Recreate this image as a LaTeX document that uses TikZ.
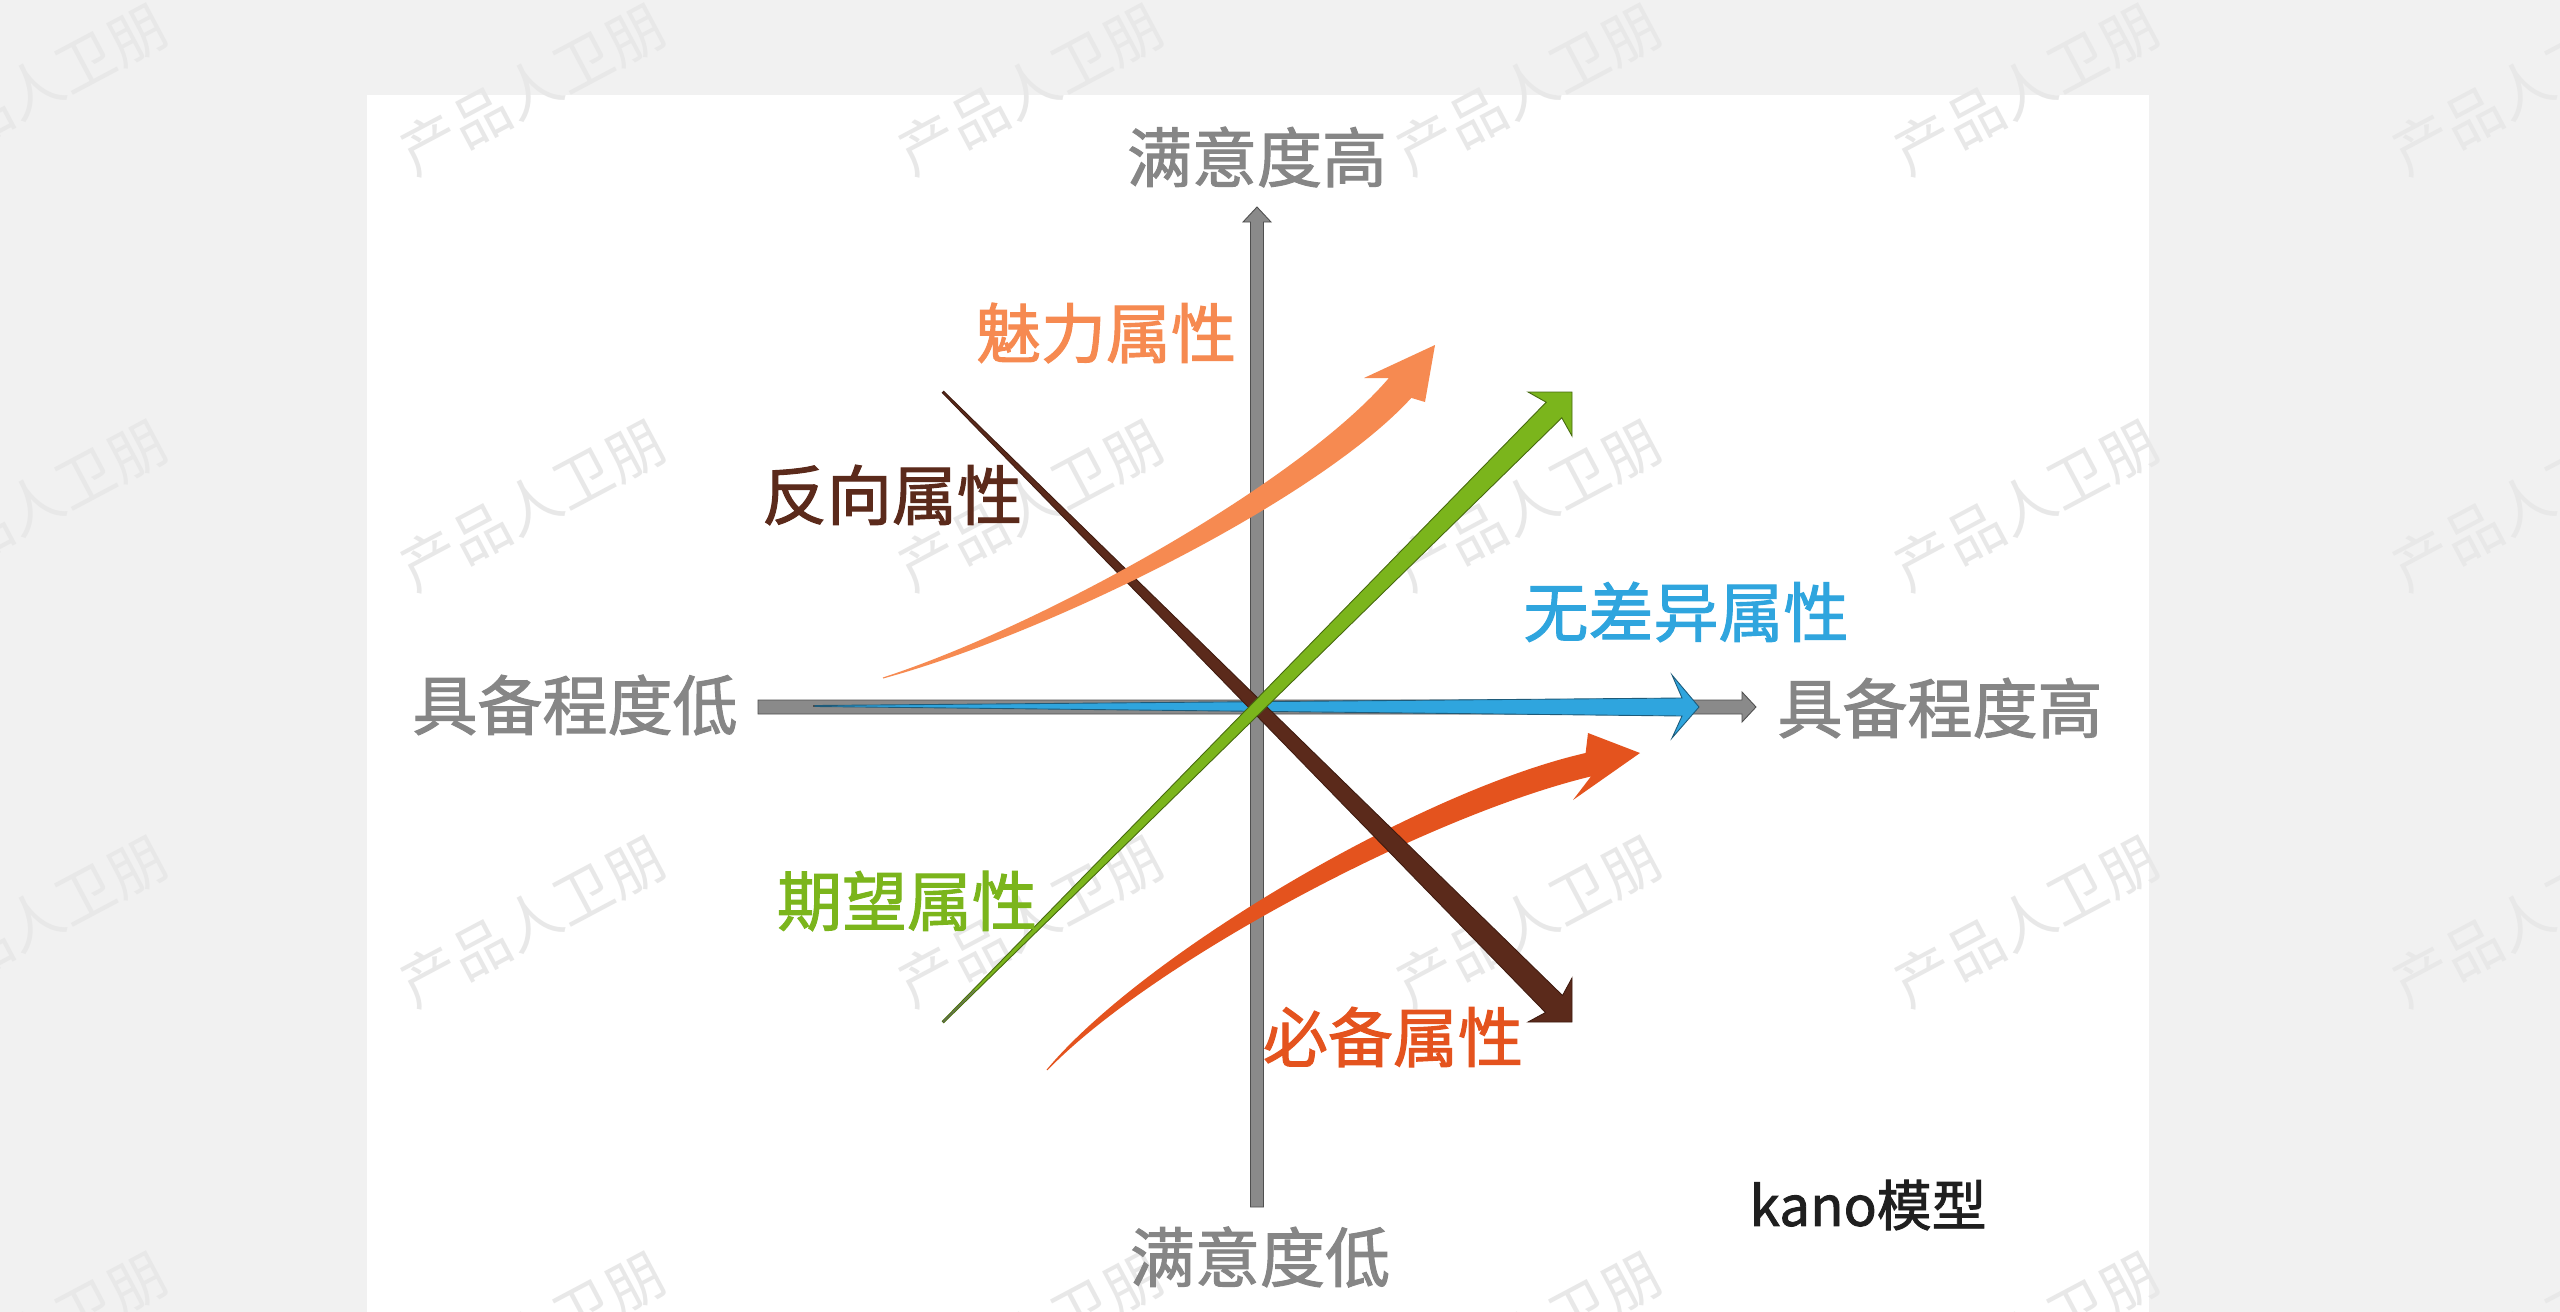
\documentclass[tikz,border=0pt]{standalone}
\usepackage{fontspec}
\setmainfont{Noto Sans CJK SC}
\newfontfamily\labelfont{Noto Sans CJK SC}[FakeBold=1.6]
\definecolor{axisgray}{HTML}{8A8A8A}
\definecolor{axisline}{HTML}{4F4F4F}
\definecolor{labelgray}{HTML}{868686}
\definecolor{attrorange}{HTML}{F68A51}
\definecolor{attrbrown}{HTML}{5B2A1B}
\definecolor{attrbrownline}{HTML}{3F1B10}
\definecolor{attrblue}{HTML}{2FA5DE}
\definecolor{attrblueline}{HTML}{1E5B7A}
\definecolor{attrgreen}{HTML}{7BB51C}
\definecolor{attrgreenline}{HTML}{46690F}
\definecolor{attrred}{HTML}{E4531E}
\definecolor{bggray}{HTML}{F1F1F1}
\definecolor{wmgray}{HTML}{E8E8E8}
\begin{document}
\begin{tikzpicture}[x=0.1mm,y=-0.1mm,
  lbl/.style={inner sep=0pt, font=\labelfont\fontsize{18.5pt}{20pt}\selectfont},
  wm/.style={inner sep=0pt, text=wmgray, rotate=28, font=\fontsize{16.5pt}{18pt}\selectfont},
  axisarrow/.style={fill=axisgray, draw=axisline, line width=0.25pt, line join=miter},
  bandarrow/.style={line width=0.25pt, line join=miter},
]
\useasboundingbox (0,0) rectangle (2560,1312);
\fill[bggray] (0,0) rectangle (2560,1312);
\fill[white] (367,95) rectangle (2149,1312);
% watermarks
\foreach \c/\x in {1/34,2/532,3/1030,4/1528,5/2026,6/2524}{
  \foreach \r/\y in {1/89,2/505,3/921,4/1337}{
    \node[wm] (wm\r\c) at (\x,\y) {产品人卫朋};
  }
}
% key points
\coordinate (origin) at (1257,706);
% horizontal axis
\draw[axisarrow] (758,700) -- (1742,700) -- (1742,692) -- (1756,707) -- (1742,722) -- (1742,714) -- (758,714) -- cycle;
% vertical axis
\draw[axisarrow] (1250.5,1207) -- (1250.5,222) -- (1243,222) -- (1257,207) -- (1271,222) -- (1263.5,222) -- (1263.5,1207) -- cycle;
% blue (indifferent)
\draw[black!70, line width=0.12mm] (813,706) -- (880,706);
\draw[bandarrow, fill=attrblue, draw=attrblueline] (815,705.5) -- (1682,698) -- (1672,675) -- (1699,707) -- (1672,738) -- (1682,716) -- (815,706.5) -- cycle;
% red (must-be)
\fill[attrred] (1046.6,1069.7) .. controls (1142.5,954.5) and (1419.7,790.9) .. (1585.6,753) -- (1588,733) -- (1640,753) -- (1573,800) -- (1591,776.4) .. controls (1425.7,816.3) and (1151.5,962.5) .. (1047.4,1070.3) -- cycle;
% brown (reverse)
\draw[bandarrow, fill=attrbrown, draw=attrbrownline] (943.7,391.3) -- (1562.5,995.5) -- (1572,978) -- (1572,1022) -- (1528,1022) -- (1545.5,1012.5) -- (942.3,392.7) -- cycle;
% green (performance)
\draw[bandarrow, fill=attrgreen, draw=attrgreenline] (942.3,1021.3) -- (1546.2,402.2) -- (1528,392) -- (1572,392) -- (1572,436) -- (1561.8,417.8) -- (943.7,1022.7) -- cycle;
\draw[black!60, line width=0.1mm] (943,1022) -- (975,990);
% orange (attractive)
\fill[attrorange] (882.9,677.5) .. controls (1048.6,623.2) and (1300.3,481.4) .. (1388.8,378.1) -- (1364,378) -- (1435,345) -- (1425,402) -- (1411.3,397.9) .. controls (1319.8,498.6) and (1051.4,632.8) .. (883.1,678.5) -- cycle;
% labels
\node[lbl, text=labelgray] (ytop) at (1257,157) {满意度高};
\node[lbl, text=labelgray] (ybot) at (1260,1257) {满意度低};
\node[lbl, text=labelgray] (xlow) at (575,705) {具备程度低};
\node[lbl, text=labelgray] (xhigh) at (1940,708) {具备程度高};
\node[lbl, text=attrorange] (lmeili) at (1106,333) {魅力属性};
\node[lbl, text=attrbrown] (lfanxiang) at (892,495) {反向属性};
\node[lbl, text=attrblue] (lwucha) at (1686,612) {无差异属性};
\node[lbl, text=attrgreen] (lqiwang) at (907,901) {期望属性};
\node[lbl, text=attrred] (lbibei) at (1393,1037) {必备属性};
\node[inner sep=0pt, font=\labelfont\fontsize{15.6pt}{17pt}\selectfont, text=black!88] (kano) at (1868,1205) {kano模型};
\end{tikzpicture}
\end{document}
